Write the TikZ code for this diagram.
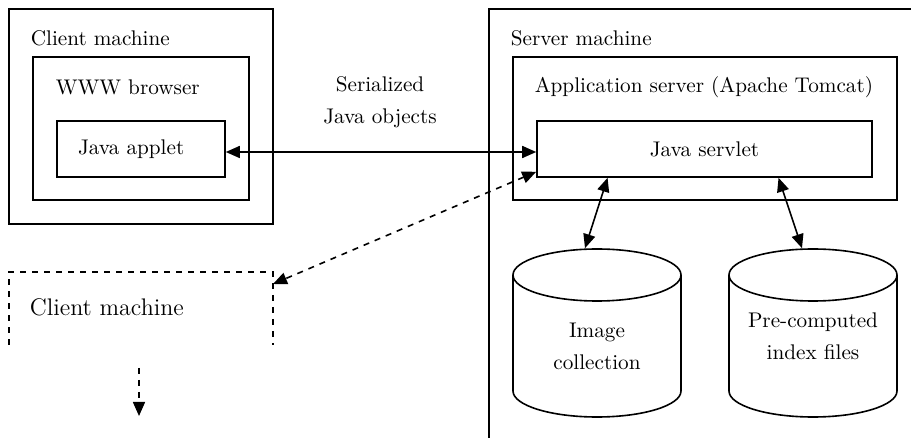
\documentclass[tikz,border=0pt]{standalone}
\usetikzlibrary{shapes.geometric, arrows.meta, positioning, calc}

\tikzset{
  box/.style={draw, rectangle, inner sep=0pt},
  tag/.style={anchor=west, inner sep=0pt, font=\fontsize{10.6}{16}\selectfont},
  words/.style={align=center, inner sep=0pt, font=\fontsize{10.6}{16}\selectfont},
  store/.style={rectangle, inner sep=0pt, minimum width=84pt, minimum height=84pt},
  head/.tip={Triangle[length=7pt, width=6pt]},
  link/.style={{head}-{head}}
}
% cylinder round a store node: centre x, top y of the lid
\newcommand{\drum}[2]{%
  \draw (#1-84,#2+26) -- (#1-84,#2+142)
    arc[start angle=180, end angle=0, x radius=84, y radius=26] -- (#1+84,#2+26);
  \draw (#1,#2+26) ellipse [x radius=84, y radius=26];
}

\begin{document}
\begin{tikzpicture}[x=0.5pt, y=-0.5pt, line width=0.8pt]
  \useasboundingbox (0,0) rectangle (911,438);

  % client side
  \node[box, minimum width=132pt, minimum height=107.5pt] (client) at (141,116.5) {};
  \node[box, minimum width=108pt, minimum height=71.5pt] (browser) at (141,128.5) {};
  \node[box, minimum height=28pt, text width=63pt, inner xsep=10.5pt, align=left,
        font=\fontsize{10.6}{16}\selectfont] (applet) at (141,149) {Java applet};
  \node[tag] (clientlbl) at (30,38) {Client machine};
  \node[tag] (browserlbl) at (55,87) {WWW browser};

  % server side
  \draw (911,9) -- (489,9) -- (489,438);
  \node[box, minimum width=192pt, minimum height=71.5pt] (appserver) at (705,128.5) {};
  \node[box, minimum width=167.5pt, minimum height=28pt,
        font=\fontsize{10.6}{16}\selectfont] (servlet) at (704.5,149) {Java servlet};
  \node[tag] (serverlbl) at (510,38) {Server machine};
  \node[tag] (appserverlbl) at (534,87) {Application server (Apache Tomcat)};

  % data stores
  \drum{597}{249}
  \drum{813}{249}
  \node[store] (imgdb) at (597,333) {};
  \node[store] (idxdb) at (813,333) {};
  \node[words] (imglbl) at (597,346) {Image\\collection};
  \node[words] (idxlbl) at (813,336) {Pre-computed\\index files};

  % further client
  \draw[dashed] (9,345) -- (9,272) -- (273,272) -- (273,345);
  \coordinate (spare) at (273,284);
  \node[tag, font=\fontsize{12}{14}\selectfont] (sparelbl) at (29,307) {Client machine};
  \coordinate (down0) at (139,368);
  \coordinate (down1) at (139,416);

  % messages
  \node[words] (objlbl) at (380,102) {Serialized\\Java objects};
  \draw[link] ($(applet.east)+(0,3)$) -- ($(servlet.west)+(0,3)$);
  \draw[link, dashed] ($(servlet.south west)+(0,-6)$) -- (spare);
  \draw[dashed, -{head}] (down0) -- (down1);
  \draw[link] ($(servlet.south west)!0.212!(servlet.south east)$) -- ($(imgdb.north)+(-12,0)$);
  \draw[link] ($(servlet.south west)!0.72!(servlet.south east)$) -- ($(idxdb.north)+(-11,0)$);
\end{tikzpicture}
\end{document}
